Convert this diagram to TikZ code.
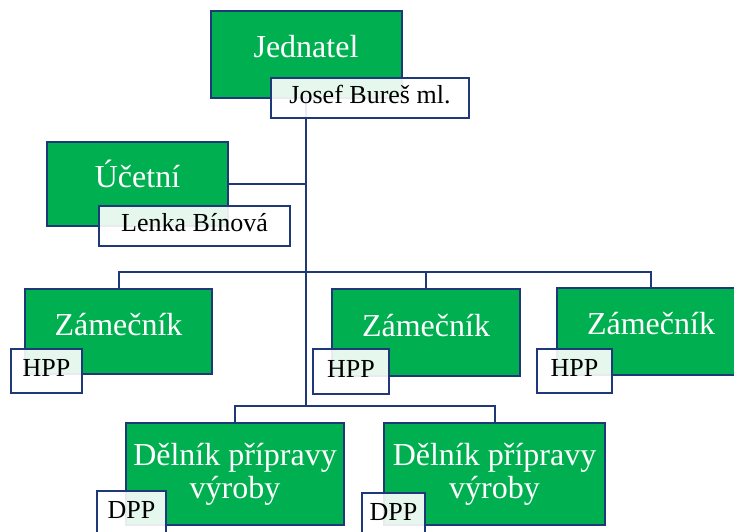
\documentclass[tikz,border=0pt]{standalone}
\usepackage{fontspec}
\setmainfont{Liberation Serif}
\usepackage{xcolor}
\usetikzlibrary{calc,
	positioning,
	backgrounds}

\definecolor{orggreen}{RGB}{0,176,80}
\definecolor{orgnavy}{RGB}{31,56,120}

\begin{document}
\begin{tikzpicture}[x=1pt, y=-1pt,
        role/.style={draw=orgnavy, line width=2pt, fill=orggreen, text=white,
            inner sep=0pt, align=center, font=\fontsize{32}{33}\selectfont},
        roleline/.style={role, text height=22pt, text depth=15pt},
        person/.style={draw=orgnavy, line width=2pt, fill=white, fill opacity=0.9,
            text opacity=1, text=black, inner sep=0pt, text height=18pt, text depth=7pt,
            font=\fontsize{26}{28}\selectfont},
        link/.style={orgnavy, line width=2pt}]
    \useasboundingbox (0,0) rectangle (734,532);

    % vedeni
    \node[roleline, minimum width=191pt, minimum height=87pt] (jednatel) at (306,54.5) {Jednatel};
    \node[person, minimum width=198pt, minimum height=40pt] (bures) at (370,98) {Josef Bureš ml.};
    \node[roleline, minimum width=181pt, minimum height=84pt] (ucetni) at (137.5,184) {Účetní};
    \node[person, minimum width=191pt, minimum height=40pt] (binova) at (194.5,226) {Lenka Bínová};

    % zamecnici
    \node[roleline, minimum width=187pt, minimum height=85pt] (zam1) at (118.5,331.5) {Zámečník};
    \node[person, minimum width=71pt, minimum height=44pt] (hpp1) at (46.5,371) {HPP};
    \node[roleline, minimum width=188pt, minimum height=87pt] (zam2) at (426,332.5) {Zámečník};
    \node[person, minimum width=76pt, minimum height=45pt] (hpp2) at (351,371.5) {HPP};
    \node[roleline, minimum width=188pt, minimum height=87pt] (zam3) at (651,331) {Zámečník};
    \node[person, minimum width=75pt, minimum height=44pt] (hpp3) at (574.5,371) {HPP};

    % delnici
    \node[role, minimum width=218pt, minimum height=102pt] (del1) at (235,474) {Dělník přípravy\\výroby};
    \node[person, minimum width=69pt, minimum height=44pt] (dpp1) at (131.5,513) {DPP};
    \node[role, minimum width=221pt, minimum height=102pt] (del2) at (494.5,474) {Dělník přípravy\\výroby};
    \node[person, minimum width=63pt, minimum height=44pt] (dpp2) at (393.5,515) {DPP};

    \coordinate (zbus) at (306,272);
    \coordinate (dbus) at (306,406);

    \begin{scope}[on background layer]
        \draw[link] (jednatel.south) -- (dbus);
        \draw[link] (ucetni.east) -- (ucetni.east -| jednatel.south);
        \draw[link] (zam1.north) |- (zbus) -| (zam3.north);
        \draw[link] (zam2.north) -- (zam2.north |- zbus);
        \draw[link] (del1.north) |- (dbus) -| (del2.north);
    \end{scope}
\end{tikzpicture}
\end{document}
